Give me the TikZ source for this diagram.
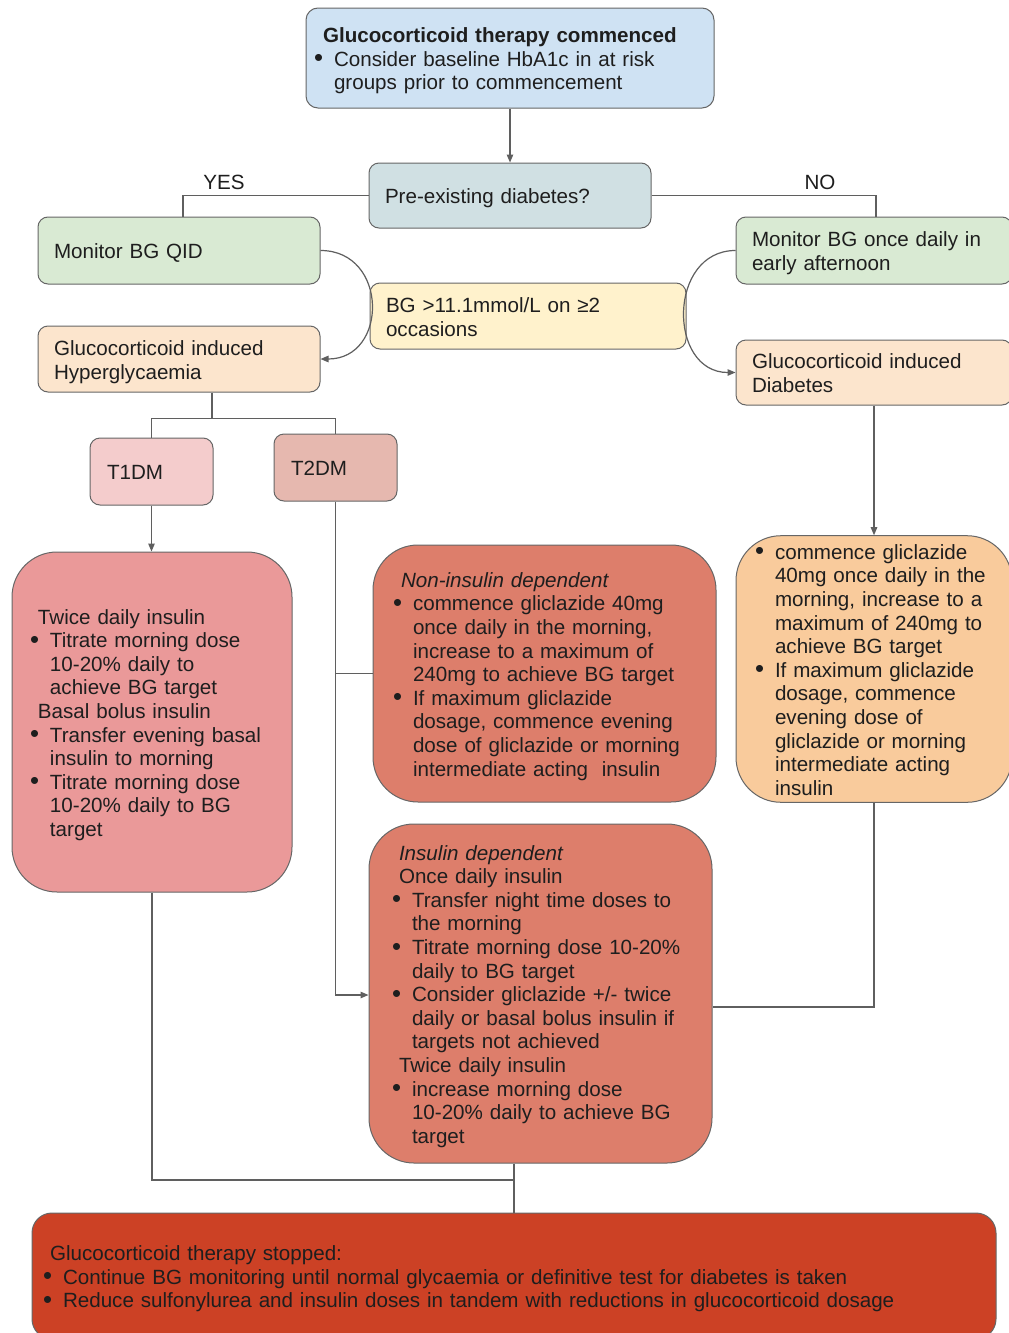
\documentclass[tikz,border=0pt]{standalone}
\usepackage{fontspec}
\setmainfont{Liberation Sans}
\usetikzlibrary{arrows.meta,calc}
\definecolor{bordercol}{HTML}{666666}
\definecolor{linecol}{HTML}{5F5F5F}
\definecolor{txtcol}{HTML}{1E1E1E}
\definecolor{cblue}{HTML}{CFE2F3}
\definecolor{cgblue}{HTML}{D0E0E3}
\definecolor{cgreen}{HTML}{D9EAD3}
\definecolor{cyellow}{HTML}{FFF2CC}
\definecolor{cpeach}{HTML}{FCE5CD}
\definecolor{cpinkl}{HTML}{F4CCCC}
\definecolor{cpinkd}{HTML}{E6B8AF}
\definecolor{cpink}{HTML}{EA9999}
\definecolor{csalmon}{HTML}{DD7E6B}
\definecolor{corange}{HTML}{F9CB9C}
\definecolor{cred}{HTML}{CC4125}
\newcommand{\bli}{\makebox[20pt][l]{\raisebox{-0.5pt}{\scalebox{1.25}{\textbullet}}}}
\newcommand{\indt}{\hspace*{20pt}}
\newcommand{\tb}[1]{\begin{tabular}{@{}l@{}}\rule{0pt}{23.5pt}#1\end{tabular}}
\begin{document}
\begin{tikzpicture}[x=1pt,y=-1pt,
  font=\fontsize{20.6}{23.6}\selectfont,
  text=txtcol,
  box/.style={draw=bordercol, line width=1pt, rounded corners=10pt, align=left, inner ysep=0pt, anchor=center},
  bigbox/.style={box, rounded corners=45pt},
  line/.style={draw=linecol, line width=1.2pt},
  arr/.style={line, -{Triangle[length=8pt,width=6.5pt]}},
  lbl/.style={inner sep=0pt}
]
\fill[white] (0,0) rectangle (1009,1333);
\useasboundingbox (0,0) rectangle (1009,1333);

% boxes
\node[box, fill=cblue, rounded corners=12pt, text width=392pt, inner xsep=8pt, minimum height=100pt] (top) at (510,58)
  {\tb{\hspace*{9pt}\textbf{Glucocorticoid therapy commenced}\\
  \bli Consider baseline HbA1c in at risk\\
  \indt groups prior to commencement}};
\node[box, fill=cgblue, text width=250pt, inner xsep=16pt, minimum height=65pt] (pre) at (510,195.5)
  {\tb{Pre-existing diabetes?}};
\node[box, fill=cgreen, text width=250pt, inner xsep=16pt, minimum height=67pt] (qid) at (179,250.5)
  {\tb{Monitor BG QID}};
\node[box, fill=cgreen, text width=244pt, inner xsep=16pt, minimum height=67pt] (once) at (874,250.5)
  {\tb{Monitor BG once daily in\\early afternoon}};
\node[box, fill=cyellow, text width=284pt, inner xsep=16pt, minimum height=66pt] (bg) at (528,316)
  {\tb{BG >11.1mmol/L on ≥2\\occasions}};
\node[box, fill=cpeach, text width=250pt, inner xsep=16pt, minimum height=66pt] (hyper) at (179,359)
  {\tb{Glucocorticoid induced\\Hyperglycaemia}};
\node[box, fill=cpeach, text width=244pt, inner xsep=16pt, minimum height=65pt] (diab) at (874,372.5)
  {\tb{Glucocorticoid induced\\Diabetes}};
\node[box, fill=cpinkl, text width=89pt, inner xsep=17pt, minimum height=67pt] (t1) at (151.5,471.5)
  {\tb{T1DM}};
\node[box, fill=cpinkd, text width=89pt, inner xsep=17pt, minimum height=67pt] (t2) at (335.5,467.5)
  {\tb{T2DM}};
\node[bigbox, fill=cpink, text width=244pt, inner xsep=18pt, minimum height=340pt] (t1box) at (152,722)
  {\tb{\hspace*{8pt}Twice daily insulin\\
  \bli Titrate morning dose\\
  \indt 10-20\% daily to\\
  \indt achieve BG target\\
  \hspace*{8pt}Basal bolus insulin\\
  \bli Transfer evening basal\\
  \indt insulin to morning\\
  \bli Titrate morning dose\\
  \indt 10-20\% daily to BG\\
  \indt target}};
\node[bigbox, fill=csalmon, text width=303pt, inner xsep=20pt, minimum height=257pt] (nonins) at (544.5,673.5)
  {\tb{\hspace*{8pt}\textit{Non-insulin dependent}\\
  \bli commence gliclazide 40mg\\
  \indt once daily in the morning,\\
  \indt increase to a maximum of\\
  \indt 240mg to achieve BG target\\
  \bli If maximum gliclazide\\
  \indt dosage, commence evening\\
  \indt dose of gliclazide or morning\\
  \indt intermediate acting\ \ insulin}};
\node[bigbox, fill=corange, text width=238pt, inner xsep=19pt, minimum height=266pt] (orange) at (874,669)
  {\tb{\bli commence gliclazide\\
  \indt 40mg once daily in the\\
  \indt morning, increase to a\\
  \indt maximum of 240mg to\\
  \indt achieve BG target\\
  \bli If maximum gliclazide\\
  \indt dosage, commence\\
  \indt evening dose of\\
  \indt gliclazide or morning\\
  \indt intermediate acting\\
  \indt insulin}};
\node[bigbox, fill=csalmon, text width=297pt, inner xsep=23pt, minimum height=339pt] (ins) at (540.5,993.5)
  {\tb{\hspace*{7pt}\textit{Insulin dependent}\\
  \hspace*{7pt}Once daily insulin\\
  \bli Transfer night time doses to\\
  \indt the morning\\
  \bli Titrate morning dose 10-20\%\\
  \indt daily to BG target\\
  \bli Consider gliclazide +/- twice\\
  \indt daily or basal bolus insulin if\\
  \indt targets not achieved\\
  \hspace*{7pt}Twice daily insulin\\
  \bli increase morning dose\\
  \indt 10-20\% daily to achieve BG\\
  \indt target}};
\node[box, fill=cred, rounded corners=20pt, text width=942pt, inner xsep=11pt, minimum height=126pt] (stop) at (514,1276)
  {\tb{\hspace*{7pt}Glucocorticoid therapy stopped:\\
  \bli Continue BG monitoring until normal glycaemia or definitive test for diabetes is taken\\
  \bli Reduce sulfonylurea and insulin doses in tandem with reductions in glucocorticoid dosage}};

% labels
\node[lbl] (yes) at (224,182) {YES};
\node[lbl] (no) at (820,182) {NO};

% connectors
\draw[arr] (top.south) -- (pre.north);
\draw[line] (pre.west) -| ([xshift=4pt]qid.north);
\draw[line] (pre.east) -| ([xshift=2pt]once.north);
\draw[arr] (qid.east) .. controls +(68,0) and +(68,0) .. (hyper.east);
\draw[arr] (once.west) .. controls +(-68,0) and +(-68,0) .. (diab.west);
\coordinate (j1) at ($(hyper.south)+(33,26)$);
\draw[line] ([xshift=33pt]hyper.south) -- (j1);
\draw[line] (t1.north) |- (j1) -| (t2.north);
\draw[arr] (t1.south) -- (t1.south |- t1box.north);
\draw[arr] (t2.south) |- ([yshift=-1.5pt]ins.west);
\draw[line] (t2.south |- nonins.west) -- (nonins.west);
\draw[arr] (diab.south) -- (orange.north);
\draw[line] (orange.south) |- ([yshift=-13.5pt]ins.east);
\coordinate (j2) at (514,1180);
\draw[line] (t1box.south) |- (j2);
\draw[line] (ins.south -| j2) -- (stop.north -| j2);
\end{tikzpicture}
\end{document}
